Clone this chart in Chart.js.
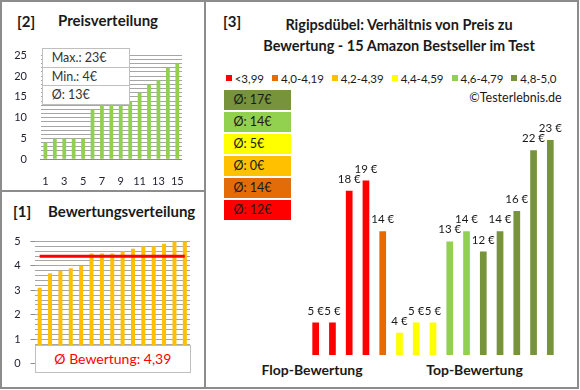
<!DOCTYPE html>
<html>
<head>
<meta charset="utf-8">
<script src="https://cdn.jsdelivr.net/npm/chart.js@4.4.1/dist/chart.umd.min.js"></script>
<style>
  body { margin: 0; background: #fff; font-family: Lato, sans-serif; color: #1a1a1a; }
  #page { position: relative; width: 580px; height: 390px; overflow: hidden; background: #fff; }
  .panel { position: absolute; border: 2px solid #8c8c8c; box-sizing: border-box; }
  .abs { position: absolute; white-space: nowrap; }
  canvas { position: absolute; }
  .bold { font-weight: bold; }
  #statBox { left: 41.7px; top: 47.7px; width: 88.3px; background: #fff; border: 1px solid #bfbfbf; box-sizing: border-box; z-index: 2; }
  #statBox div { height: 18.3px; line-height: 18.3px; padding-left: 9px; font-size: 12.5px; color: #333; border-top: 1px solid #bfbfbf; box-sizing: border-box; }
  #statBox div:first-child { border-top: none; }
  #avgBox { left: 35px; top: 345px; width: 155.7px; height: 28px; line-height: 26px; background: #fff; border: 1px solid #bfbfbf; box-sizing: border-box; text-align: center; color: #ff0000; font-size: 14px; z-index: 2; }
  #legend { left: 225.7px; top: 71px; height: 14px; display: flex; align-items: center; font-size: 11.5px; }
  #legend span.sq { display: inline-block; width: 6px; height: 6px; margin-right: 3px; }
  #legend span.tx { margin-right: 8px; }
  .grpBox { position: absolute; left: 223.5px; width: 67px; height: 20px; line-height: 20px; font-size: 12.5px; padding-left: 10px; box-sizing: border-box; }
</style>
</head>
<body>
<div id="page">
  <div class="panel" style="left:0; top:0; width:206px; height:192px;"></div>
  <div class="panel" style="left:0; top:190px; width:206px; height:199px;"></div>
  <div class="panel" style="left:204px; top:0; width:375px; height:389px;"></div>

  <div class="abs bold" style="left:17px; top:11px; font-size:15px; line-height:20px;">[2]</div>
  <div class="abs bold" style="left:58px; top:10px; font-size:15px; line-height:20px;">Preisverteilung</div>
  <div class="abs bold" style="left:13px; top:201px; font-size:15px; line-height:20px;">[1]</div>
  <div class="abs bold" style="left:48px; top:201px; font-size:15px; line-height:20px;">Bewertungsverteilung</div>

  <div class="abs bold" style="left:223px; top:11px; font-size:15px; line-height:20px;">[3]</div>
  <div class="abs bold" style="left:205px; width:388px; top:15px; font-size:14.5px; line-height:20.5px; text-align:center; white-space:normal;">Rigipsdübel: Verhältnis von Preis zu<br>Bewertung - 15 Amazon Bestseller im Test</div>

  <div id="legend" class="abs"></div>
  <div class="abs" style="left:400px; width:161.7px; top:90px; line-height:16px; font-size:12.5px; text-align:right;">©Testerlebnis.de</div>
  <div id="groupBoxes"></div>

  <div class="abs bold" style="left:252px; width:120px; top:361px; line-height:18px; font-size:14px; text-align:center;">Flop-Bewertung</div>
  <div class="abs bold" style="left:414.5px; width:120px; top:361px; line-height:18px; font-size:14px; text-align:center;">Top-Bewertung</div>

  <canvas id="priceChart" width="200" height="160" style="left:0; top:35px;"></canvas>
  <div id="statBox" class="abs"></div>

  <canvas id="ratingChart" width="200" height="155" style="left:0; top:225px;"></canvas>
  <div id="avgBox" class="abs">Ø Bewertung: 4,39</div>

  <canvas id="mainChart" width="272" height="245" style="left:297px; top:115px;"></canvas>
</div>

<script>
// [2] Preisverteilung
const rankLabels = ['1','2','3','4','5','6','7','8','9','10','11','12','13','14','15'];
const pricesSorted = [4, 5, 5, 5, 5, 12, 13, 14, 14, 14, 16, 18, 19, 22, 23];
const priceStats = ['Max.: 23€', 'Min.: 4€', 'Ø: 13€'];

// [1] Bewertungsverteilung
const ratingsSorted = [3.1, 3.7, 3.8, 3.9, 4.0, 4.5, 4.5, 4.5, 4.6, 4.7, 4.8, 4.8, 4.9, 5.0, 5.0];
const avgRating = 4.39;

// [3] Preis je Produkt, nach Bewertung sortiert
const productPrices = [5, 5, 18, 19, 14, 4, 5, 5, 13, 14, 12, 14, 16, 22, 23];
const productGroup = [0, 0, 0, 0, 1, 3, 3, 3, 4, 4, 5, 5, 5, 5, 5];
const groupLabels = ['<3,99', '4,0-4,19', '4,2-4,39', '4,4-4,59', '4,6-4,79', '4,8-5,0'];
const groupAvgPrice = [12, 14, 0, 5, 14, 17];

const groupColors = ['#ff0000', '#e36c09', '#ffc000', '#ffff00', '#92d050', '#77933c'];
const gridColor = '#a6a6a6';
const tickColor = '#1f1f2f';

Chart.defaults.font.family = 'Lato';
Chart.defaults.animation = false;
Chart.defaults.plugins.legend.display = false;
Chart.defaults.plugins.tooltip.enabled = false;

// stat box + legend + group boxes (html)
const statBox = document.getElementById('statBox');
priceStats.forEach(s => {
    const d = document.createElement('div');
    d.textContent = s;
    statBox.appendChild(d);
});

const legend = document.getElementById('legend');
groupLabels.forEach((label, i) => {
    const sq = document.createElement('span');
    sq.className = 'sq';
    sq.style.background = groupColors[i];
    const tx = document.createElement('span');
    tx.className = 'tx';
    tx.textContent = label;
    legend.appendChild(sq);
    legend.appendChild(tx);
});

const groupBoxes = document.getElementById('groupBoxes');
for (let i = groupLabels.length - 1, row = 0; i >= 0; i--, row++) {
    const b = document.createElement('div');
    b.className = 'grpBox';
    b.style.top = (89.5 + row * 22.1) + 'px';
    b.style.background = groupColors[i];
    b.textContent = 'Ø: ' + groupAvgPrice[i] + '€';
    groupBoxes.appendChild(b);
}

// [2]
new Chart(document.getElementById('priceChart'), {
    type: 'bar',
    data: {
        labels: rankLabels,
        datasets: [{
            data: pricesSorted,
            backgroundColor: '#92d050',
            barPercentage: 0.4,
            categoryPercentage: 1,
        }],
    },
    options: {
        responsive: false,
        layout: { padding: { top: 12.7, right: 10, left: 0, bottom: 0 } },
        scales: {
            x: {
                grid: { display: false, drawTicks: false },
                border: { display: true, color: '#8c8c8c' },
                ticks: {
                    autoSkip: false, maxRotation: 0, padding: 16, color: tickColor,
                    font: { size: 11 },
                    callback: (v, i) => (i % 2 === 0 ? rankLabels[i] : ''),
                },
                afterFit: s => { s.height = 35.7; },
            },
            y: {
                min: 0, max: 25,
                grid: { color: gridColor, drawTicks: false },
                border: { display: false },
                ticks: {
                    stepSize: 1, autoSkip: false, padding: 13.7, color: tickColor,
                    font: { size: 11 },
                    callback: v => (v % 5 === 0 ? v : ''),
                },
                afterFit: s => { s.width = 40.7; },
            },
        },
    },
});

// [1]
const isWhole = v => Math.abs(v - Math.round(v)) < 1e-6;
new Chart(document.getElementById('ratingChart'), {
    type: 'bar',
    data: {
        labels: rankLabels,
        datasets: [{
            type: 'line',
            data: ratingsSorted.map(() => avgRating),
            borderColor: '#ff0000',
            borderWidth: 3,
            pointRadius: 0,
            order: 0,
        }, {
            data: ratingsSorted,
            backgroundColor: '#ffc000',
            barPercentage: 0.385,
            categoryPercentage: 1,
            order: 1,
        }],
    },
    options: {
        responsive: false,
        layout: { padding: { top: 12.7, right: 10, left: 0, bottom: 7.3 } },
        scales: {
            x: { display: false },
            y: {
                min: 0, max: 5,
                grid: {
                    color: gridColor,
                    tickLength: 4,
                    tickColor: ctx => (isWhole(ctx.tick.value) ? '#8c8c8c' : 'rgba(0,0,0,0)'),
                },
                border: { display: false },
                ticks: {
                    stepSize: 0.2, autoSkip: false, padding: 9.8, color: tickColor,
                    font: { size: 11 },
                    callback: v => (isWhole(v) ? Math.round(v) : ''),
                },
                afterFit: s => { s.width = 34.5; },
            },
        },
    },
});

// [3]
const priceLabels = {
    id: 'priceLabels',
    afterDatasetsDraw(chart) {
        const ctx = chart.ctx;
        const meta = chart.getDatasetMeta(0);
        ctx.save();
        ctx.font = '11.5px Lato';
        ctx.fillStyle = '#1a1a1a';
        ctx.textAlign = 'center';
        ctx.textBaseline = 'alphabetic';
        meta.data.forEach((bar, i) => {
            ctx.fillText(productPrices[i] + ' €', bar.x, bar.y - 8);
        });
        ctx.restore();
    },
};

new Chart(document.getElementById('mainChart'), {
    type: 'bar',
    data: {
        labels: rankLabels,
        datasets: [{
            data: productPrices,
            backgroundColor: productGroup.map(g => groupColors[g]),
            barPercentage: 0.4,
            categoryPercentage: 1,
        }],
    },
    options: {
        responsive: false,
        layout: { padding: { top: 4.7, right: 10.3, left: 10.3, bottom: 5 } },
        scales: {
            x: { display: false },
            y: { display: false, min: 1.8, max: 25 },
        },
    },
    plugins: [priceLabels],
});
</script>
</body>
</html>
